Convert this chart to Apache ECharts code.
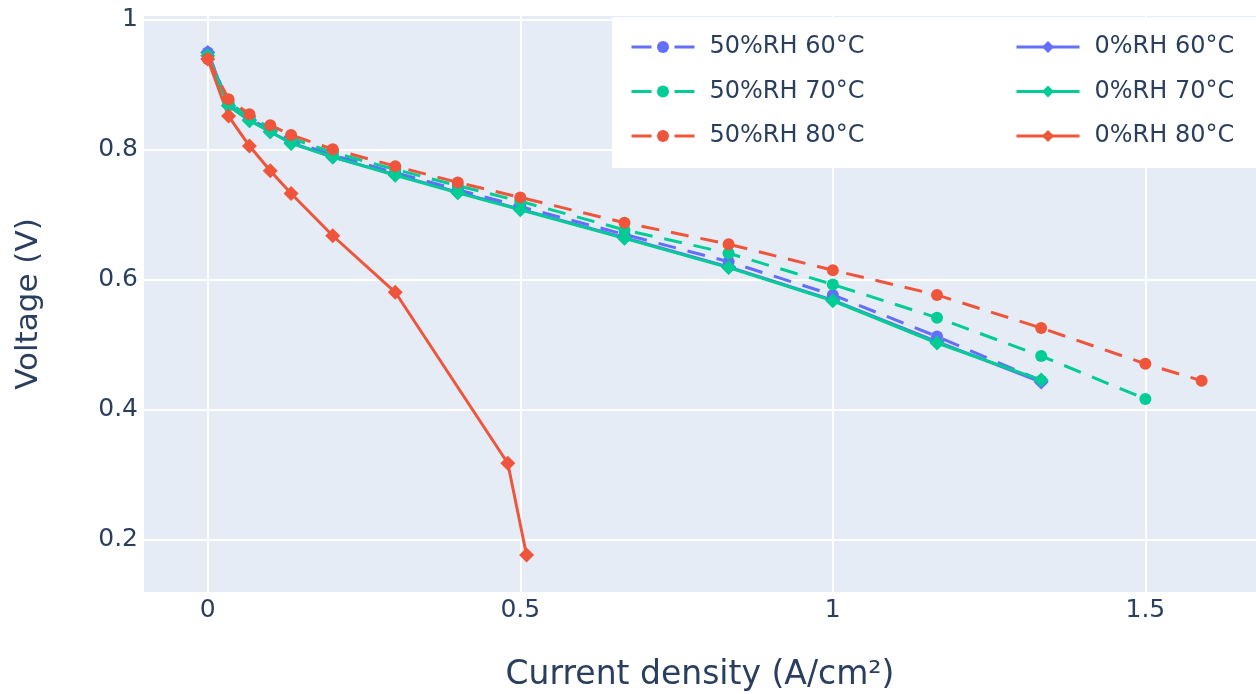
<!DOCTYPE html>
<html><head><meta charset="utf-8">
<script src="https://cdn.jsdelivr.net/npm/echarts@6/dist/echarts.min.js"></script>
<style>html,body{margin:0;padding:0;background:#fff}#c{width:1256px;height:694px}</style>
</head><body><div id="c"></div>
<script>
// Current density (A/cm²)
const currentDensity = [0, 0.0333, 0.0667, 0.1, 0.1333, 0.2, 0.3, 0.4, 0.5, 0.6667, 0.8333, 1.0, 1.1667, 1.3333, 1.5, 1.59];
const currentDensity0RH80 = [0, 0.0333, 0.0667, 0.1, 0.1333, 0.2, 0.3, 0.48, 0.51];
// Voltage (V)
const v50RH60 = [0.950, 0.870, 0.848, 0.831, 0.814, 0.792, 0.765, 0.739, 0.713, 0.670, 0.628, 0.577, 0.513, 0.445];
const v50RH70 = [0.945, 0.873, 0.851, 0.834, 0.818, 0.796, 0.770, 0.745, 0.721, 0.677, 0.641, 0.593, 0.542, 0.483, 0.417];
const v50RH80 = [0.940, 0.878, 0.855, 0.838, 0.823, 0.801, 0.775, 0.750, 0.727, 0.688, 0.655, 0.615, 0.577, 0.526, 0.471, 0.445];
const v0RH60  = [0.950, 0.868, 0.846, 0.828, 0.811, 0.789, 0.762, 0.735, 0.709, 0.665, 0.620, 0.569, 0.505, 0.443];
const v0RH70  = [0.945, 0.868, 0.845, 0.828, 0.810, 0.789, 0.761, 0.734, 0.708, 0.664, 0.619, 0.568, 0.503, 0.446];
const v0RH80  = [0.940, 0.852, 0.806, 0.768, 0.733, 0.668, 0.581, 0.318, 0.177];
const xTicks = [0, 0.5, 1, 1.5];
const yTicks = [0.2, 0.4, 0.6, 0.8, 1];
const names50 = ['50%RH 60°C', '50%RH 70°C', '50%RH 80°C'];
const names0 = ['0%RH 60°C', '0%RH 70°C', '0%RH 80°C'];

const BLUE = '#636efa', GREEN = '#00cc96', RED = '#EF553B';
const FONT = 'DejaVu Sans';
const TXT = '#2a3f5f';

function pairs(xs, ys) { return ys.map((y, i) => [xs[i], y]); }
function dashed(name, color, ys) {
  return { name, type: 'line', data: pairs(currentDensity, ys), symbol: 'circle', symbolSize: 12,
    lineStyle: { color, width: 3, type: [18, 12] }, itemStyle: { color }, emphasis: { disabled: true } };
}
function solid(name, color, xs, ys) {
  return { name, type: 'line', data: pairs(xs, ys), symbol: 'diamond', symbolSize: 15,
    lineStyle: { color, width: 3, type: 'solid' }, itemStyle: { color }, emphasis: { disabled: true } };
}

const legendBase = {
  orient: 'vertical', top: 28, itemWidth: 63, itemHeight: 15, itemGap: 16.5,
  lineStyle: { width: 3 },
  textStyle: { fontFamily: FONT, fontSize: 24, color: TXT, lineHeight: 28, padding: [0, 0, 0, 10] },
  selectedMode: false
};

const chart = echarts.init(document.getElementById('c'));
chart.setOption({
  animation: false,
  backgroundColor: '#fff',
  grid: { left: 144, right: 0, top: 16, bottom: 102, outerBoundsMode: 'none', containLabel: false,
    show: true, backgroundColor: '#E5ECF6', borderWidth: 0 },
  xAxis: {
    type: 'value', min: -0.102, max: 1.677,
    name: 'Current density (A/cm²)', nameLocation: 'middle', nameGap: 67,
    nameTextStyle: { fontFamily: FONT, fontSize: 33, color: TXT },
    axisLine: { show: false }, axisTick: { show: false, customValues: xTicks },
    axisLabel: { customValues: xTicks, fontFamily: FONT, fontSize: 25, color: TXT, margin: 6 },
    splitLine: { show: true, lineStyle: { color: '#fff', width: 2 } }
  },
  yAxis: {
    type: 'value', min: 0.12, max: 1.006,
    name: 'Voltage (V)', nameLocation: 'middle', nameGap: 100,
    nameTextStyle: { fontFamily: FONT, fontSize: 31, color: TXT },
    axisLine: { show: false }, axisTick: { show: false, customValues: yTicks },
    axisLabel: { customValues: yTicks, fontFamily: FONT, fontSize: 25, color: TXT, margin: 6 },
    splitLine: { show: true, lineStyle: { color: '#fff', width: 2 } }
  },
  graphic: [{ type: 'rect', left: 612, top: 17, z: 3, shape: { width: 644, height: 151 }, style: { fill: '#fff' } }],
  legend: [
    Object.assign({}, legendBase, { left: 625,
      data: names50.map(n => ({ name: n, lineStyle: { type: [20, 23], width: 3 } })) }),
    Object.assign({}, legendBase, { left: 1010, data: names0 })
  ],
  series: [
    dashed(names50[0], BLUE, v50RH60),
    solid(names0[0], BLUE, currentDensity, v0RH60),
    dashed(names50[1], GREEN, v50RH70),
    solid(names0[1], GREEN, currentDensity, v0RH70),
    dashed(names50[2], RED, v50RH80),
    solid(names0[2], RED, currentDensity0RH80, v0RH80)
  ]
});
</script></body></html>
